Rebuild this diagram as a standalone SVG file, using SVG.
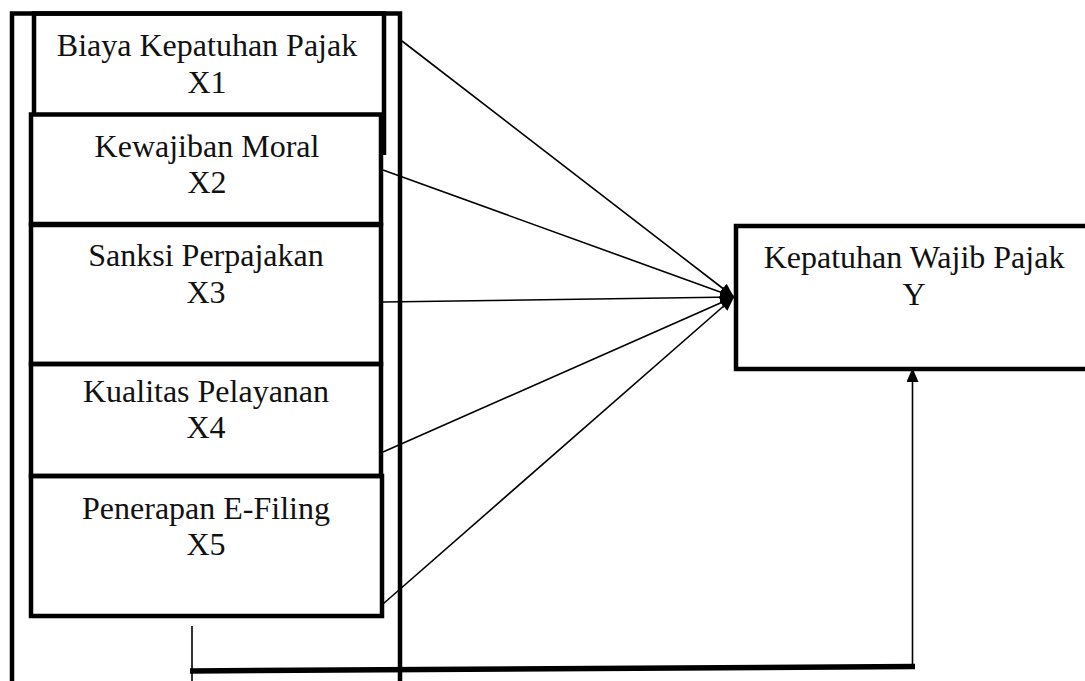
<svg xmlns="http://www.w3.org/2000/svg" width="1085" height="681" viewBox="0 0 1085 681">
<style>
.box{fill:none;stroke:#000;stroke-width:4.5}
.lbl{font-family:"Liberation Serif","Times New Roman",serif;font-size:32px;fill:#111;text-anchor:middle}
.con{stroke:#000;stroke-width:1.6;fill:none}
</style>
<defs>
<marker id="ah" viewBox="0 0 14 12" refX="14" refY="6" markerWidth="14" markerHeight="12" markerUnits="userSpaceOnUse" orient="auto">
<path d="M0,0 L14,6 L0,12 Z" fill="#000"/>
</marker>
</defs>
<rect width="1085" height="681" fill="#fff"/>
<g id="outer">
<path class="box" d="M12,700 L12,13.5 L400,13.5 L400,700"/>
</g>
<g id="x1">
<path class="box" d="M34,113 L34,13.5 L384,13.5 L384,155"/>
<text class="lbl" x="207" y="56">Biaya Kepatuhan Pajak</text>
<text class="lbl" x="207" y="93">X1</text>
</g>
<g id="x2">
<rect class="box" x="31" y="114.5" width="350" height="109.5"/>
<text class="lbl" x="207" y="157">Kewajiban Moral</text>
<text class="lbl" x="207" y="193">X2</text>
</g>
<g id="x3">
<rect class="box" x="31" y="225" width="350" height="139"/>
<text class="lbl" x="206" y="266">Sanksi Perpajakan</text>
<text class="lbl" x="206" y="303">X3</text>
</g>
<g id="x4">
<rect class="box" x="31" y="364" width="350" height="112"/>
<text class="lbl" x="206" y="402">Kualitas Pelayanan</text>
<text class="lbl" x="206" y="438">X4</text>
</g>
<g id="x5">
<rect class="box" x="31" y="476" width="351" height="140"/>
<text class="lbl" x="206" y="519">Penerapan E-Filing</text>
<text class="lbl" x="206" y="555">X5</text>
</g>
<g id="y">
<path class="box" d="M1100,226 L736,226 L736,369 L1100,369"/>
<text class="lbl" x="914" y="268">Kepatuhan Wajib Pajak</text>
<text class="lbl" x="914" y="305">Y</text>
</g>
<g id="connectors">
<line class="con" x1="402" y1="41" x2="734" y2="297" marker-end="url(#ah)"/>
<line class="con" x1="383" y1="170" x2="734" y2="297" marker-end="url(#ah)"/>
<line class="con" x1="383" y1="302" x2="734" y2="297" marker-end="url(#ah)"/>
<line class="con" x1="383" y1="452" x2="734" y2="297" marker-end="url(#ah)"/>
<line class="con" x1="383" y1="604" x2="734" y2="297" marker-end="url(#ah)"/>
<line class="con" x1="192" y1="626" x2="192" y2="681"/>
<line x1="190" y1="671" x2="915" y2="666.5" stroke="#000" stroke-width="5.5"/>
<line class="con" x1="912.5" y1="666" x2="912.5" y2="368" marker-end="url(#ah)"/>
</g>
</svg>
